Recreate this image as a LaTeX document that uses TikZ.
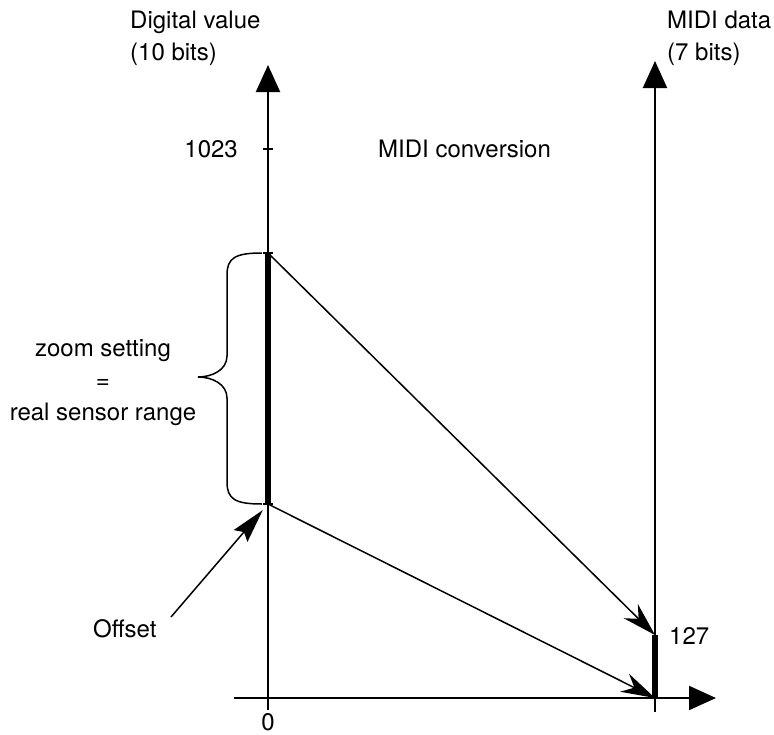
\documentclass[tikz,border=0pt]{standalone}
\usepackage{fontspec}
\setmainfont{TeX Gyre Heros}
\usetikzlibrary{arrows.meta}

\begin{document}
\begin{tikzpicture}[x=1pt, y=-1pt,
  axis/.style={line width=2pt, -{Triangle[length=27pt, width=24pt]}},
  rangebar/.style={line width=5.5pt},
  conv/.style={line width=1.5pt, -{Stealth[length=34pt, width=20pt, inset=11pt]}},
  tickmark/.style={line width=1.5pt},
  lbl/.style={inner sep=0pt, font=\fontsize{24}{32}\selectfont}]

\useasboundingbox (0,0) rectangle (774,734);

% Axes
\coordinate (origin) at (268,698);
\coordinate (rbase) at (655,698);
\draw[axis] (268,710) -- (268,65);
\draw[axis] (655,712) -- (655,61);
\draw[axis] (234,698) -- (716,698);

% Axis titles
\node[lbl, anchor=north west, align=left] (digital) at (130,11) {Digital value\\(10 bits)};
\node[lbl, anchor=north west, align=left] (mididata) at (667,11) {MIDI data\\(7 bits)};
\node[lbl, anchor=base west] (title) at (378,157) {MIDI conversion};

% Ticks and values
\draw[tickmark] (263,149) -- (273,149);
\node[lbl, anchor=base east] (top) at (238,157) {1023};
\node[lbl, anchor=base] (zero) at (268,730) {0};
\node[lbl, anchor=base west] (max) at (669,644) {127};

% Sensor range on the left axis
\coordinate (hi) at (268,253);
\coordinate (lo) at (268,504);
\draw[rangebar] (hi) -- (lo);
\draw[tickmark] (263,253) -- (273,253);
\draw[tickmark] (263,504) -- (273,504);

% MIDI range on the right axis
\coordinate (midimax) at (655,635);
\draw[rangebar, line width=6pt] (midimax) -- (rbase);

% Brace and its text
\draw[line width=1.5pt] (262,253) .. controls (235,253) and (227,258) .. (227,275)
  -- (227,356) .. controls (227,370) and (212,377) .. (198,377)
  .. controls (212,377) and (227,384) .. (227,398)
  -- (227,482) .. controls (227,499) and (235,504) .. (262,504);
\node[lbl, align=center] (zoomtxt) at (103,383) {zoom setting\\=\\real sensor range};

% Conversion arrows
\draw[conv] (hi) -- (midimax);
\draw[conv] (lo) -- (rbase);

% Offset
\node[lbl, anchor=base west] (offset) at (93,637) {Offset};
\coordinate (offtail) at (171,617);
\draw[line width=1.5pt, -{Stealth[length=34pt, width=18pt, inset=5pt]}, shorten >=8pt] (offtail) -- (lo);

\end{tikzpicture}
\end{document}
